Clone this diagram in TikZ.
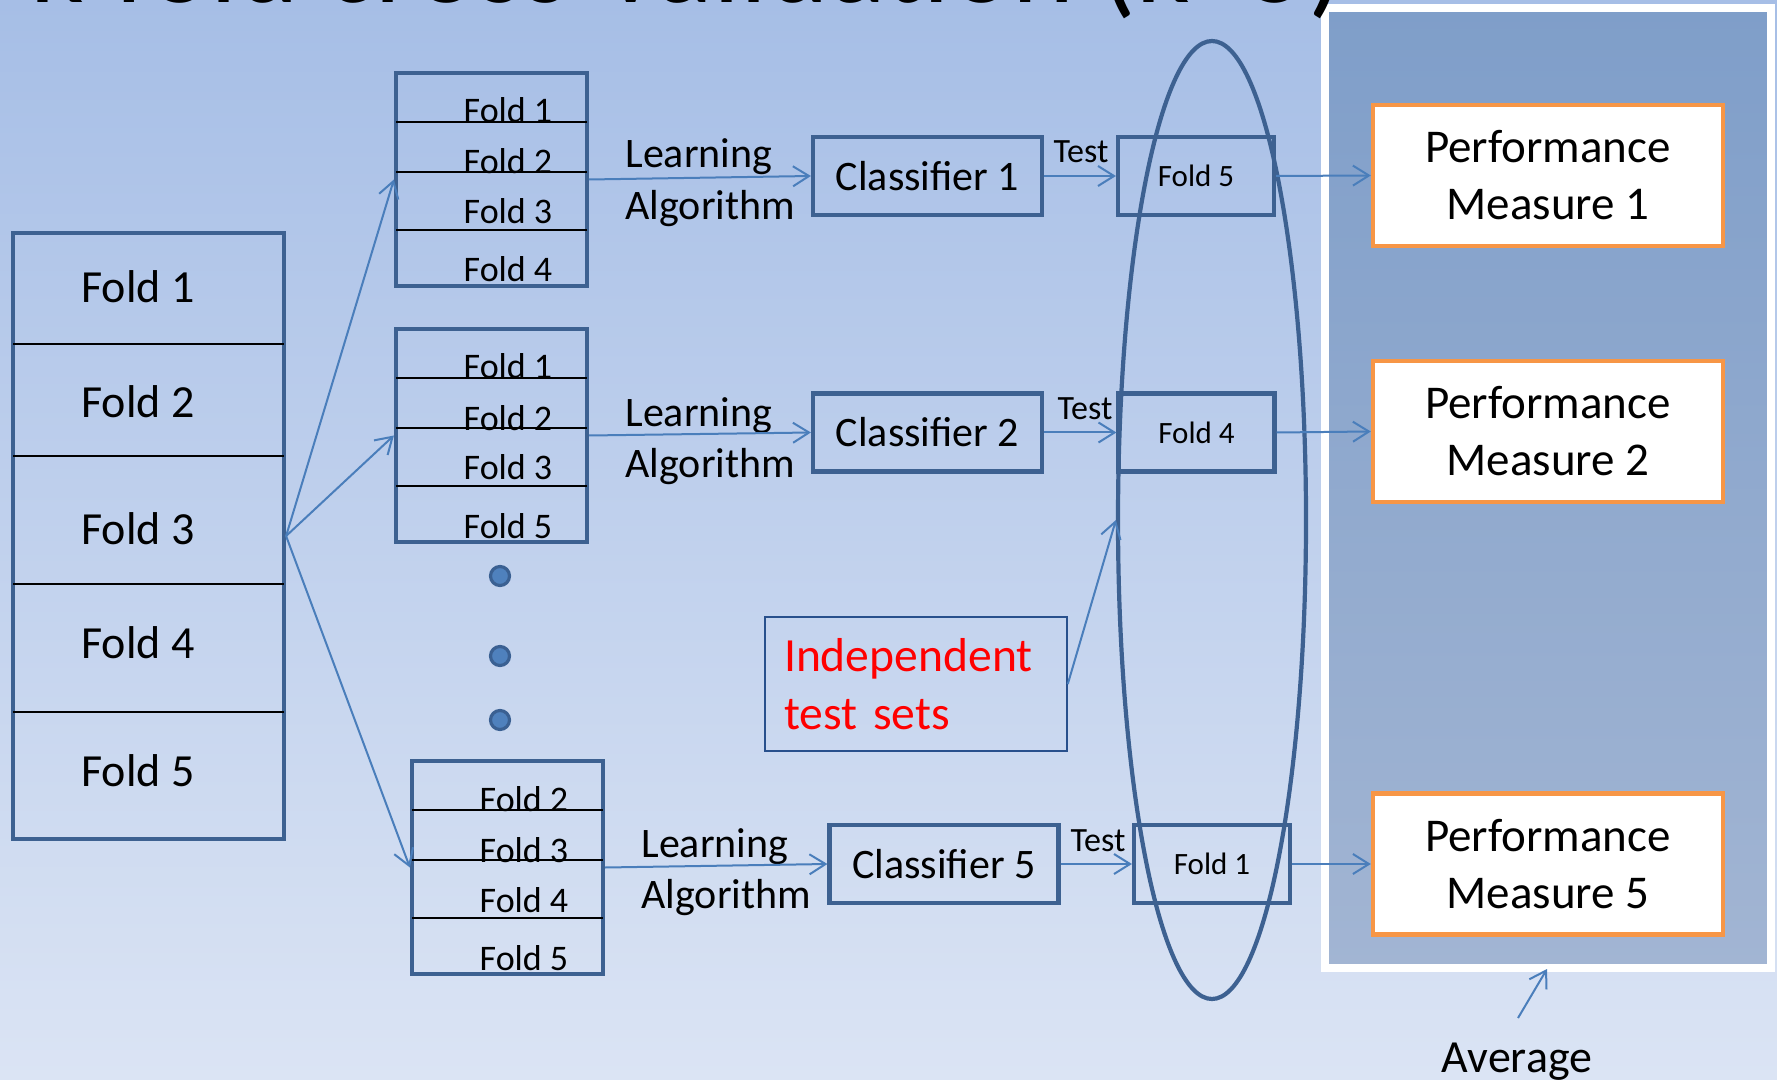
\documentclass[tikz,border=0pt]{standalone}
\usepackage{fontspec}
\setmainfont{Carlito}
\usetikzlibrary{arrows.meta,shapes.geometric,shadows}
\definecolor{bgtop}{RGB}{166,190,230}
\definecolor{bgbot}{RGB}{219,228,244}
\definecolor{pantop}{RGB}{127,158,201}
\definecolor{panbot}{RGB}{162,181,211}
\definecolor{boxc}{RGB}{61,97,145}
\definecolor{arrc}{RGB}{74,126,187}
\definecolor{dotf}{RGB}{79,129,189}
\definecolor{dotr}{RGB}{58,96,146}
\definecolor{orng}{RGB}{247,150,70}
\definecolor{indc}{RGB}{40,80,140}
\definecolor{redt}{RGB}{255,0,0}
\newcommand\mkstack[7]{%
  \node[box, minimum width=95.5pt, minimum height=106.5pt] (#1) at ({#2+95.5},{#3+106.5}) {};
  \draw[divider] (#2,{#3+49}) -- ({#2+191},{#3+49});
  \draw[divider] (#2,{#3+99}) -- ({#2+191},{#3+99});
  \draw[divider] (#2,{#3+157}) -- ({#2+191},{#3+157});
  \node[stackf] (#1l1) at ({#2+112},{#3+50}) {#4};
  \node[stackf] (#1l2) at ({#2+112},{#3+101}) {#5};
  \node[stackf] (#1l3) at ({#2+112},{#3+151}) {#6};
  \node[stackf] (#1l4) at ({#2+112},{#3+209}) {#7};
}
\begin{document}
\begin{tikzpicture}[x=0.5pt,y=-0.5pt,
  box/.style={draw=boxc, line width=2.1pt, inner sep=0pt, rectangle},
  divider/.style={draw=black, line width=0.8pt},
  arr/.style={draw=arrc, line width=1pt, -{Straight Barb[length=8pt,width=10pt]}},
  bigf/.style={font=\fontsize{23}{28}\selectfont, anchor=base, inner sep=0pt},
  stackf/.style={font=\fontsize{18}{22}\selectfont, anchor=base, inner sep=0pt},
  lalg/.style={font=\fontsize{21}{25}\selectfont, anchor=base west, inner sep=0pt},
  clsbox/.style={box, minimum width=114.5pt, minimum height=39pt, font=\fontsize{21}{25}\selectfont},
  testf/.style={font=\fontsize{17}{20}\selectfont, anchor=base, inner sep=0pt},
  fbox/.style={box, minimum width=78pt, minimum height=39pt, font=\fontsize{15.5}{19}\selectfont},
  pmbox/.style={draw=orng, line width=2.2pt, fill=white, minimum width=175pt, minimum height=70.5pt, align=center, inner sep=0pt, font=\fontsize{23.5}{28.5}\selectfont},
  dotn/.style={circle, draw=dotr, fill=dotf, line width=1.6pt, minimum size=9.5pt, inner sep=0pt},
]
\useasboundingbox (0,0) rectangle (1777,1080);
\clip (0,0) rectangle (1777,1080);
% background
\shade[top color=bgtop, bottom color=bgbot] (0,0) rectangle (1777,1080);
% right panel
\node[draw=white, line width=4pt, top color=pantop, bottom color=panbot,
      minimum width=223pt, minimum height=480pt, inner sep=0pt,
      drop shadow={opacity=0.3, shadow xshift=1.5pt, shadow yshift=-2pt}] (panel) at (1548,488) {};
% ellipse of test sets
\node[ellipse, draw=boxc, line width=2.1pt, minimum width=94pt, minimum height=479pt, inner sep=0pt] (ell) at (1212,520) {};
% big fold box
\node[box, minimum width=135.5pt, minimum height=303pt] (big) at (148.5,536) {};
\draw[divider] (13,344) -- (284,344);
\draw[divider] (13,456) -- (284,456);
\draw[divider] (13,584) -- (284,584);
\draw[divider] (13,712) -- (284,712);
\node[bigf] (b1) at (138,303) {Fold 1};
\node[bigf] (b2) at (138,417) {Fold 2};
\node[bigf] (b3) at (138,544) {Fold 3};
\node[bigf] (b4) at (138,658) {Fold 4};
\node[bigf] (b5) at (138,786) {Fold 5};
% stacks
\mkstack{s1}{396}{73}{Fold 1}{Fold 2}{Fold 3}{Fold 4}
\mkstack{s2}{396}{329}{Fold 1}{Fold 2}{Fold 3}{Fold 5}
\mkstack{s3}{412}{761}{Fold 2}{Fold 3}{Fold 4}{Fold 5}
% dots
\node[dotn] (d1) at (500,576) {};
\node[dotn] (d2) at (500,656) {};
\node[dotn] (d3) at (500,720) {};
% learning algorithm labels
\node[lalg] (la1) at (625,168) {Learning};
\node[lalg] (al1) at (625,220) {Algorithm};
\node[lalg] (la2) at (625,427) {Learning};
\node[lalg] (al2) at (625,477) {Algorithm};
\node[lalg] (la3) at (641,857) {Learning};
\node[lalg] (al3) at (641,908) {Algorithm};
% classifiers
\node[clsbox] (c1) at (927.5,176) {Classifier 1};
\node[clsbox] (c2) at (927.5,432.5) {Classifier 2};
\node[clsbox] (c5) at (944,864) {Classifier 5};
% test labels
\node[testf] (t1) at (1081,163) {Test};
\node[testf] (t2) at (1085,420) {Test};
\node[testf] (t5) at (1098,851) {Test};
% test fold boxes
\node[fbox] (f5) at (1196,176) {Fold 5};
\node[fbox] (f4) at (1196.5,432.5) {Fold 4};
\node[fbox] (f1) at (1212,864) {Fold 1};
% performance measures
\node[pmbox] (pm1) at (1548,175.5) {Performance\\Measure 1};
\node[pmbox] (pm2) at (1548,431.5) {Performance\\Measure 2};
\node[pmbox] (pm5) at (1548,864) {Performance\\Measure 5};
% independent test sets
\node[draw=indc, line width=0.8pt, minimum width=151pt, minimum height=67pt, inner sep=0pt,
      text width=132pt, align=left, text=redt, font=\fontsize{23.8}{29}\selectfont] (indep) at (916,684) {Independent\\test sets};
% average
\node[font=\fontsize{23}{28}\selectfont, anchor=base, inner sep=0pt] (avg) at (1517,1072) {Average};
\coordinate (avgS) at (1518,1018);
\coordinate (avgE) at (1547,969);
% connectors
\draw[arr] (big.east) -- (s1.west);
\draw[arr] (big.east) -- (s2.west);
\draw[arr] (big.east) -- (s3.west);
\draw[arr] (s1.east) -- (c1.west);
\draw[arr] (s2.east) -- (c2.west);
\draw[arr] (s3.east) -- (c5.west);
\draw[arr] (c1.east) -- (f5.west);
\draw[arr] (c2.east) -- (f4.west);
\draw[arr] (c5.east) -- (f1.west);
\draw[arr] (f5.east) -- (pm1.west);
\draw[arr] (f4.east) -- (pm2.west);
\draw[arr] (f1.east) -- (pm5.west);
\draw[arr] (indep.east) -- (ell.west);
\draw[arr] (avgS) -- (avgE);
% title (cut off at the top)
\node[font=\fontsize{59}{70}\selectfont, anchor=base west, inner sep=0pt] (title) at (30,2.5) {k-fold cross-validation (k=5)};
\end{tikzpicture}
\end{document}
